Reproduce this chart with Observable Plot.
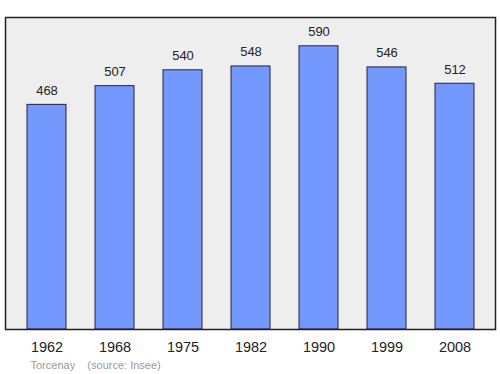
<!DOCTYPE html>
<html>
<head>
<meta charset="utf-8">
<script src="https://cdn.jsdelivr.net/npm/d3@7"></script>
<script src="https://cdn.jsdelivr.net/npm/@observablehq/plot@0.6"></script>
<style>
  html, body { margin: 0; padding: 0; background: #fff; }
  svg { display: block; }
</style>
</head>
<body>
<div id="chart"></div>
<script>
const years = ["1962", "1968", "1975", "1982", "1990", "1999", "2008"];
const population = [468, 507, 540, 548, 590, 546, 512];
const caption = "Torcenay    (source: Insee)";

const data = years.map((y, i) => ({year: y, pop: population[i]}));

const chart = Plot.plot({
  width: 500,
  height: 374,
  marginTop: 17,
  marginBottom: 45,
  marginLeft: 5,
  marginRight: 5,
  style: {fontFamily: "'Liberation Sans', Arial, sans-serif", background: "#fff"},
  x: {domain: years, paddingInner: 0.43, paddingOuter: 0.3, axis: null},
  y: {domain: [0, 650], axis: null},
  marks: [
    Plot.frame({fill: "#eeeeee"}),
    Plot.barY(data, {x: "year", y: "pop", fill: "#7399ff", stroke: "#222244", strokeWidth: 1}),
    Plot.text(data, {x: "year", y: "pop", text: d => String(d.pop), lineAnchor: "bottom", dy: -10, fontSize: 13, fill: "#222"}),
    Plot.axisX({tickSize: 0, tickPadding: 12, fontSize: 14.5, fill: "#222", label: null}),
    Plot.frame({stroke: "#222", strokeWidth: 1.5}),
    Plot.text([caption], {frameAnchor: "bottom-left", text: d => d, dx: 25, dy: 36, fontSize: 11, fill: "#999", textAnchor: "start", lineAnchor: "middle"})
  ]
});
document.getElementById("chart").appendChild(chart);
</script>
</body>
</html>
